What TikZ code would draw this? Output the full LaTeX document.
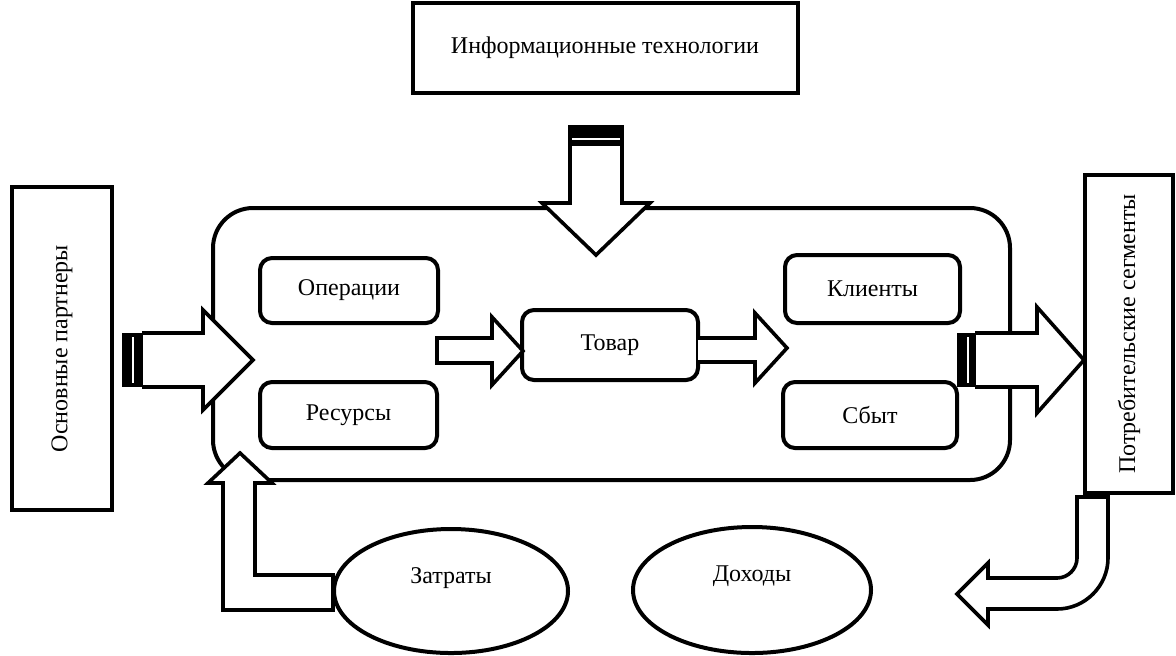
\documentclass[tikz,border=0pt]{standalone}
\usepackage{fontspec}
\setmainfont{Liberation Serif}
\usetikzlibrary{shapes.geometric}
\begin{document}
\begin{tikzpicture}[x=.5pt, y=-.5pt, line join=miter,
	every node/.style={font=\fontsize{12}{14}\selectfont},
	box/.style={draw, line width=2pt, inner sep=0pt},
	rbox/.style={draw, line width=2pt, rounded corners=6pt, inner sep=0pt},
	oval/.style={draw, ellipse, fill=white, line width=2pt, inner sep=0pt},
	blk/.style={draw, fill=white, line width=1.8pt}]
	\useasboundingbox (0,0) rectangle (1176,655);
	% outer boxes
	\node[box, minimum width=192.5pt, minimum height=45pt] (it) at (605,48) {Информационные технологии};
	\node[box, rotate=90, minimum width=161.5pt, minimum height=50pt] (partners) at (62,348.5) {Основные партнеры};
	\node[box, rotate=90, minimum width=159pt, minimum height=44pt] (segments) at (1129,334) {Потребительские сегменты};
	% model
	\node[draw, line width=2pt, rounded corners=20pt, minimum width=398.5pt, minimum height=136pt] (model) at (611.5,344) {};
	\node[rbox, minimum width=89pt, minimum height=32.5pt] (ops) at (349,290.5) {Операции};
	\node[rbox, minimum width=88.5pt, minimum height=33pt] (res) at (348.5,415) {Ресурсы};
	\node[rbox, minimum width=88pt, minimum height=35pt] (goods) at (610,345) {Товар};
	\node[rbox, minimum width=87.5pt, minimum height=34pt] (clients) at (872.5,289) {Клиенты};
	\node[rbox, minimum width=87pt, minimum height=33pt] (sales) at (870,415) {Сбыт};
	% block arrows
	\draw[blk] (570,145) -- (570,203) -- (542,203) -- (596,255) -- (650,203) -- (622,203) -- (622,145);
	\fill (568,125) rectangle (624,146);
	\draw[white, line width=.6pt] (572,139) -- (620,139);
	\draw[blk] (142,333) -- (203,333) -- (203,310) -- (253,360) -- (203,410) -- (203,387) -- (142,387);
	\fill (122,333) rectangle (143,387);
	\draw[white, line width=.6pt] (133,337) -- (133,383);
	\draw[blk] (975,333) -- (1037,333) -- (1037,307) -- (1084,360) -- (1037,413) -- (1037,387) -- (975,387);
	\fill (957,333) rectangle (976,387);
	\draw[white, line width=.6pt] (968,337) -- (968,383);
	\draw[blk] (437,338) -- (492,338) -- (492,317) -- (523,351) -- (492,385) -- (492,363) -- (437,363) -- cycle;
	\draw[blk] (698,338) -- (755,338) -- (755,313) -- (787,348) -- (755,383) -- (755,362) -- (698,362);
	\draw[blk] (223,610) -- (223,483) -- (208,483) -- (240,453) -- (272,483) -- (255,483) -- (255,575) -- (333,575) -- (333,610) -- cycle;
	\draw[blk] (1077,497) -- (1077,558) .. controls (1077,569) and (1068,578) .. (1057,578) -- (988,578) -- (988,563) -- (957,594) -- (988,625) -- (988,609) -- (1057,609) .. controls (1085,609) and (1108,586) .. (1108,558) -- (1108,497) -- cycle;
	% money
	\node[oval, minimum width=117pt, minimum height=62pt, label={[yshift=6.5pt]center:Затраты}] (costs) at (451,591) {};
	\node[oval, minimum width=119pt, minimum height=63pt, label={[yshift=7pt]center:Доходы}] (income) at (752,590) {};
\end{tikzpicture}
\end{document}
